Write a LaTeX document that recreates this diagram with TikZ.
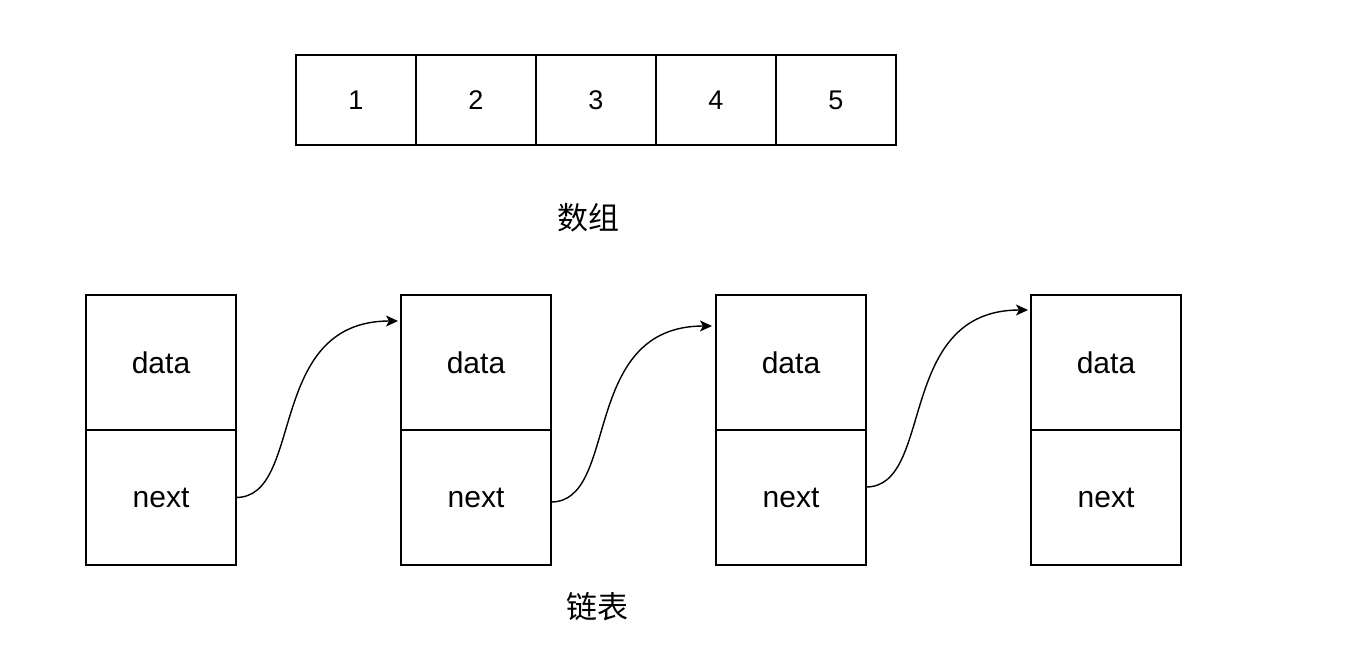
\documentclass[tikz,border=0pt]{standalone}
\usepackage{fontspec}
\setmainfont{Liberation Sans}
\newfontfamily\cjk{Noto Sans CJK SC}
\usetikzlibrary{arrows.meta,calc}
\begin{document}
\begin{tikzpicture}[x=1pt,y=-1pt,
  cell/.style={draw,line width=1.3pt,minimum width=120pt,minimum height=90pt,inner sep=0pt,outer sep=0pt,font=\fontsize{27}{32}\selectfont},
  lnode/.style={draw,line width=1.3pt,minimum width=150pt,minimum height=135pt,inner sep=0pt,outer sep=0pt,font=\fontsize{30}{36}\selectfont},
  lbl/.style={font=\cjk\fontsize{31}{36}\selectfont},
  arr/.style={line width=1.4pt,-{Stealth[length=12pt,width=11pt,inset=3pt]}}]
\useasboundingbox[fill=white] (0,0) rectangle (1361,671);
% array
\node[cell] (a1) at (356,100) {1};
\node[cell] (a2) at (476,100) {2};
\node[cell] (a3) at (596,100) {3};
\node[cell] (a4) at (716,100) {4};
\node[cell] (a5) at (836,100) {5};
\node[lbl] (arrlbl) at (588,218) {数组};
% linked list
\node[lnode] (d1) at (161,362.5) {data};
\node[lnode] (n1) at (161,497.5) {next};
\node[lnode] (d2) at (476,362.5) {data};
\node[lnode] (n2) at (476,497.5) {next};
\node[lnode] (d3) at (791,362.5) {data};
\node[lnode] (n3) at (791,497.5) {next};
\node[lnode] (d4) at (1106,362.5) {data};
\node[lnode] (n4) at (1106,497.5) {next};
\node[lbl] (listlbl) at (597,607) {链表};
% connectors
\draw[arr] (n1.east) .. controls +(69,0) and +(-133,0) .. ($(d2.north west)+(-3,26)$);
\draw[arr] ($(n2.east)+(0,4.5)$) .. controls +(69,0) and +(-133,0) .. ($(d3.north west)+(-4,31)$);
\draw[arr] ($(n3.east)+(0,-10.5)$) .. controls +(69,0) and +(-133,0) .. ($(d4.north west)+(-3,15)$);
\end{tikzpicture}
\end{document}
